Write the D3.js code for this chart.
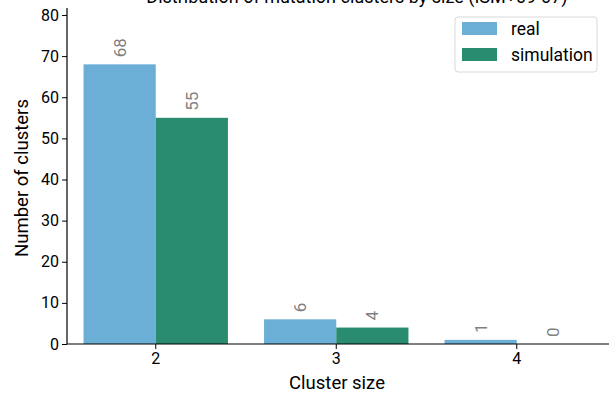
<!DOCTYPE html>
<html><head><meta charset="utf-8">
<script src="https://cdn.jsdelivr.net/npm/d3@7"></script>
<style>body{margin:0;background:#fff}svg{display:block;font-family:Roboto,"DejaVu Sans",sans-serif}</style>
</head><body><svg id="c" width="609" height="394"></svg>
<script>
const categories = ["2","3","4"];
const seriesNames = ["real","simulation"];
const realValues = [68, 6, 1];
const simValues = [55, 4, 0];
const yTicks = [0,10,20,30,40,50,60,70,80];
const colors = ["#6baed6","#2a8c6e"];
const title = "Distribution of mutation clusters by size (ISM+09-07)";

const svg = d3.select("#c");
const mLeft = 67, mRight = 609, mTop = 8, mBottom = 344;
const x = d3.scaleBand().domain(categories).range([65.5, 607]).paddingInner(0.2).paddingOuter(0.1);
const x1 = d3.scaleBand().domain(seriesNames).range([0, x.bandwidth()]);
const y = d3.scaleLinear().domain([0, 81.7]).range([mBottom, mTop]);

const data = categories.map((c,i)=>({c, vals:[realValues[i], simValues[i]]}));

const g = svg.append("g");
data.forEach(d=>{
  d.vals.forEach((v,j)=>{
    const bx = x(d.c) + x1(seriesNames[j]);
    g.append("rect").attr("x", bx).attr("y", y(v)).attr("width", x1.bandwidth()).attr("height", y(0)-y(v)).attr("fill", colors[j]);
    const cx = bx + x1.bandwidth()/2;
    g.append("text").attr("transform", `translate(${cx+6},${y(v)-7}) rotate(-90)`)
      .attr("fill","#808080").attr("font-size",17).attr("text-anchor","start").text(v);
  });
});

const yAxis = svg.append("g").attr("transform",`translate(${mLeft},0)`)
  .call(d3.axisLeft(y).tickValues(yTicks).tickSize(5).tickPadding(3));
yAxis.select(".domain").attr("d", `M0,${mTop}V${mBottom}`).attr("stroke","#000").attr("stroke-width",1.2);
yAxis.selectAll("text").attr("font-size",16).attr("fill","#000").attr("font-family","Roboto");
yAxis.selectAll("line").attr("stroke","#000");

const xAxis = svg.append("g").attr("transform",`translate(0,${mBottom})`)
  .call(d3.axisBottom(x).tickSize(5).tickPadding(4));
xAxis.select(".domain").attr("d", `M${mLeft},0H${mRight}`).attr("stroke","#000").attr("stroke-width",1.2);
xAxis.selectAll("text").attr("font-size",16).attr("fill","#000").attr("font-family","Roboto");
xAxis.selectAll("line").attr("stroke","#000");

svg.append("text").attr("x", 337).attr("y", 389).attr("text-anchor","middle").attr("font-size",18.5).text("Cluster size");
svg.append("text").attr("transform","translate(28,178) rotate(-90)").attr("text-anchor","middle").attr("font-size",18.5).text("Number of clusters");
svg.append("text").attr("x", 357).attr("y", 3).attr("text-anchor","middle").attr("font-size",18).text(title);

const lg = svg.append("g").attr("transform","translate(455,17)");
lg.append("rect").attr("x",0).attr("y",0).attr("width",142).attr("height",55).attr("rx",3).attr("fill","#fff").attr("stroke","#d9d9d9");
seriesNames.forEach((s,i)=>{
  lg.append("rect").attr("x",7).attr("y",5+i*26).attr("width",35).attr("height",13).attr("fill",colors[i]);
  lg.append("text").attr("x",56).attr("y",18+i*26).attr("font-size",17.5).text(s);
});
</script></body></html>
